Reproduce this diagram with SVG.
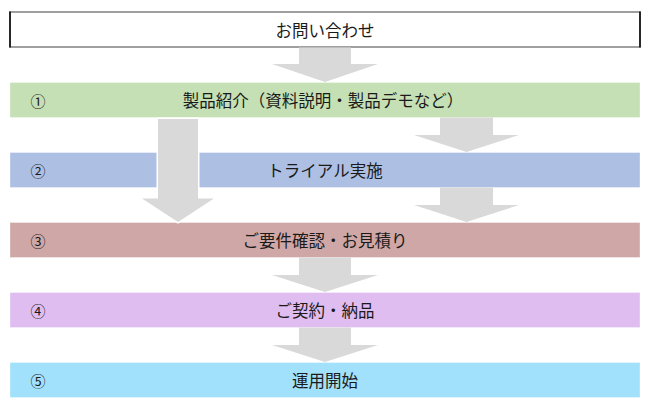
<svg xmlns="http://www.w3.org/2000/svg" width="650" height="410" viewBox="0 0 650 410">
<style>
  .t{font-family:"Noto Sans CJK JP","Noto Sans",sans-serif;font-size:16.5px;fill:#1a1a1a;text-anchor:middle;dominant-baseline:central}
  .n{font-family:"Noto Sans CJK JP","Noto Sans",sans-serif;font-size:15px;fill:#1a1a1a;text-anchor:middle;dominant-baseline:central}
  .bar{stroke:#ffffff;stroke-opacity:0.35;stroke-width:1}
  .arr{fill:#d9d9d9}
</style>
<rect width="650" height="410" fill="#ffffff"/>
<g id="node-inquiry">
  <rect x="10" y="12" width="630" height="35" fill="#ffffff" stroke="#808080" stroke-width="1.5"/>
  <line x1="10" y1="11.5" x2="10" y2="47.5" stroke="#000000" stroke-width="1.5"/>
  <line x1="640" y1="11.5" x2="640" y2="47.5" stroke="#000000" stroke-width="1.5"/>
  <text class="t" x="325" y="30">お問い合わせ</text>
</g>
<g id="node-1">
  <rect class="bar" x="10" y="82.5" width="630" height="35" fill="#c5e0b4"/>
  <text class="n" x="38" y="100">①</text>
  <text class="t" x="323" y="100">製品紹介（資料説明・製品デモなど）</text>
</g>
<g id="node-2">
  <rect class="bar" x="10" y="152.5" width="630" height="35" fill="#adc0e3"/>
  <text class="n" x="38" y="170">②</text>
  <text class="t" x="325" y="170">トライアル実施</text>
</g>
<g id="node-3">
  <rect class="bar" x="10" y="222.5" width="630" height="35" fill="#cfa7a7"/>
  <text class="n" x="38" y="240">③</text>
  <text class="t" x="325" y="240">ご要件確認・お見積り</text>
</g>
<g id="node-4">
  <rect class="bar" x="10" y="292.5" width="630" height="35" fill="#e0bdf1"/>
  <text class="n" x="38" y="310">④</text>
  <text class="t" x="325" y="310">ご契約・納品</text>
</g>
<g id="node-5">
  <rect class="bar" x="10" y="362.5" width="630" height="35" fill="#a2e1fc"/>
  <text class="n" x="38" y="380">⑤</text>
  <text class="t" x="325" y="380">運用開始</text>
</g>
<g id="connectors">
  <polygon class="arr" points="299,47.5 351,47.5 351,64 378,64 325,82 272,64 299,64"/>
  <polygon class="arr" points="158,119 198,119 198,198.5 214,198.5 178,222 142,198.5 158,198.5" stroke="#ffffff" stroke-width="3" stroke-linejoin="miter" paint-order="stroke"/>
  <polygon class="arr" points="440,117.5 493,117.5 493,135 519,135 466.5,152 414,135 440,135"/>
  <polygon class="arr" points="440,187.5 493,187.5 493,205 519,205 466.5,222 414,205 440,205"/>
  <polygon class="arr" points="299,257.5 351,257.5 351,275 378,275 325,292 272,275 299,275"/>
  <polygon class="arr" points="299,327.5 351,327.5 351,345 378,345 325,362 272,345 299,345"/>
</g>
</svg>
